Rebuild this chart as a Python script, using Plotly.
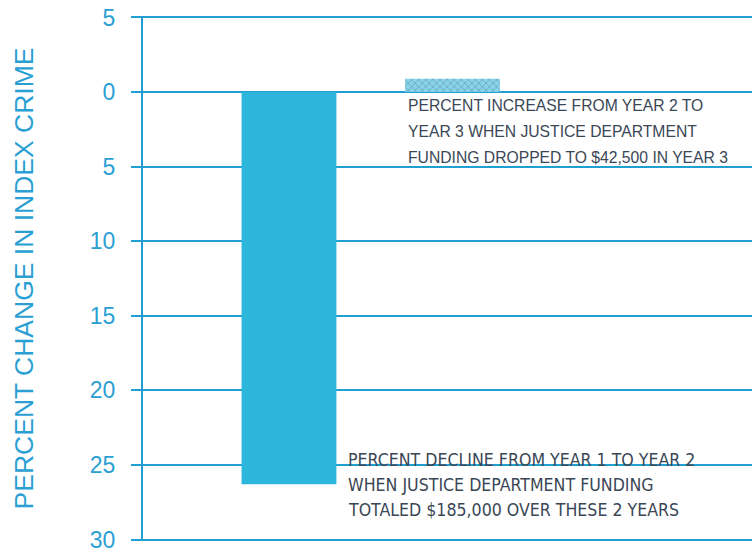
import plotly.graph_objects as go

# Percent change in index crime for each period (negative = decline)
periods = ["YEAR 1 TO YEAR 2", "YEAR 2 TO YEAR 3"]
pct_change = [-26.3, 0.9]
bar_colors = ["#2cb6dc", "#86d4ec"]
bar_patterns = ["", "x"]

# Axis ticks: labels show magnitude only
tick_vals = [5, 0, -5, -10, -15, -20, -25, -30]
tick_text = ["5", "0", "5", "10", "15", "20", "25", "30"]

note_increase = [
    "PERCENT INCREASE FROM YEAR 2 TO",
    "YEAR 3 WHEN JUSTICE DEPARTMENT",
    "FUNDING DROPPED TO $42,500 IN YEAR 3",
]
note_decline = [
    "PERCENT DECLINE FROM YEAR 1 TO YEAR 2",
    "WHEN JUSTICE DEPARTMENT FUNDING",
    "TOTALED $185,000 OVER THESE 2 YEARS",
]

LINE = "#1f9fd2"
TEXT = "#3a4756"
LABEL = "#2a9fd3"

fig = go.Figure(
    go.Bar(
        x=periods,
        y=pct_change,
        marker=dict(
            color=bar_colors,
            line=dict(width=0),
            pattern=dict(shape=bar_patterns, fgcolor="#5cc2e2", size=5, solidity=0.2),
        ),
        width=0.58,
        hoverinfo="skip",
    )
)

annotations = []
for i, line in enumerate(note_increase):
    annotations.append(dict(
        x=0.716, y=-0.93 - 1.73 * i, xref="x", yref="y",
        text=line, showarrow=False, xanchor="left", yanchor="middle",
        font=dict(family="Liberation Sans, Arial, sans-serif", size=15.7, color=TEXT),
    ))
for i, line in enumerate(note_decline):
    annotations.append(dict(
        x=0.349, y=-24.65 - 1.7 * i, xref="x", yref="y",
        text=line, showarrow=False, xanchor="left", yanchor="middle",
        font=dict(family="Liberation Sans Narrow, DejaVu Sans Condensed, Arial Narrow, sans-serif",
                  size=17.6, color=TEXT),
    ))

fig.update_layout(
    width=752, height=553,
    margin=dict(l=143, r=0, t=16, b=9),
    paper_bgcolor="white", plot_bgcolor="white",
    showlegend=False,
    annotations=annotations,
    xaxis=dict(
        type="category",
        range=[-0.893, 2.832],
        showticklabels=False, showgrid=False, zeroline=False, ticks="",
        showline=False,
    ),
    yaxis=dict(
        range=[-30.1, 5.1],
        tickvals=tick_vals, ticktext=tick_text,
        ticklabeloverflow="allow",
        showgrid=True, gridcolor=LINE, gridwidth=2,
        zeroline=True, zerolinecolor=LINE, zerolinewidth=2,
        showline=True, linecolor=LINE, linewidth=2,
        ticks="outside", ticklen=10, tickcolor=LINE, tickwidth=2,
        ticklabelstandoff=11,
        tickfont=dict(family="Liberation Sans, Arial, sans-serif", size=23, color=LABEL),
        title=dict(
            text="PERCENT CHANGE IN INDEX CRIME",
            font=dict(family="Liberation Sans, Arial, sans-serif", size=26.5, color=LABEL),
            standoff=49,
        ),
    ),
)

fig.write_html("out.html")
